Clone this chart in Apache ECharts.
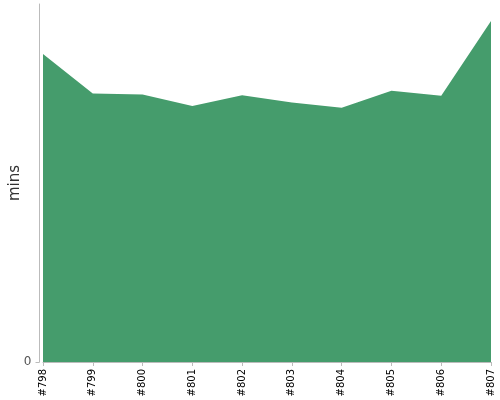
<!DOCTYPE html>
<html>
<head>
<meta charset="utf-8">
<script src="https://cdn.jsdelivr.net/npm/echarts@6/dist/echarts.min.js"></script>
<style>
html,body{margin:0;padding:0;background:#fff;}
#chart{width:500px;height:400px;}
</style>
</head>
<body>
<div id="chart"></div>
<script>
// builds and their durations (mins)
var builds = ['#798', '#799', '#800', '#801', '#802', '#803', '#804', '#805', '#806', '#807'];
var mins = [34.4, 30.0, 29.9, 28.6, 29.8, 29.0, 28.4, 30.3, 29.75, 38.1];
var yTicks = [0];

var chart = echarts.init(document.getElementById('chart'));
chart.setOption({
    animation: false,
    grid: {left: 43, right: 9, top: 4, bottom: 38, outerBoundsMode: 'none', containLabel: false},
    xAxis: {
        type: 'category',
        data: builds,
        boundaryGap: false,
        offset: 4,
        axisLine: {lineStyle: {color: '#bbb', width: 1}},
        axisTick: {length: 4, lineStyle: {color: '#bbb'}},
        axisLabel: {
            rotate: 90,
            margin: 3,
            color: '#000',
            fontSize: 10,
            fontFamily: 'DejaVu Sans',
            interval: 0
        }
    },
    yAxis: {
        type: 'value',
        min: 0,
        max: 40,
        interval: 40,
        offset: 3.5,
        name: 'mins',
        nameLocation: 'middle',
        nameGap: 17,
        nameMoveOverlap: false,
        nameTextStyle: {color: '#333', fontSize: 15, fontFamily: 'DejaVu Sans'},
        axisLine: {show: true, lineStyle: {color: '#bbb', width: 1}},
        axisTick: {show: true, length: 4, customValues: yTicks, lineStyle: {color: '#bbb'}},
        axisLabel: {
            customValues: yTicks,
            color: '#555',
            fontSize: 12,
            fontFamily: 'DejaVu Sans',
            margin: 8
        },
        splitLine: {show: false}
    },
    series: [{
        type: 'line',
        data: mins,
        symbol: 'none',
        lineStyle: {width: 0},
        areaStyle: {color: '#459c6c', opacity: 1}
    }]
});
</script>
</body>
</html>
